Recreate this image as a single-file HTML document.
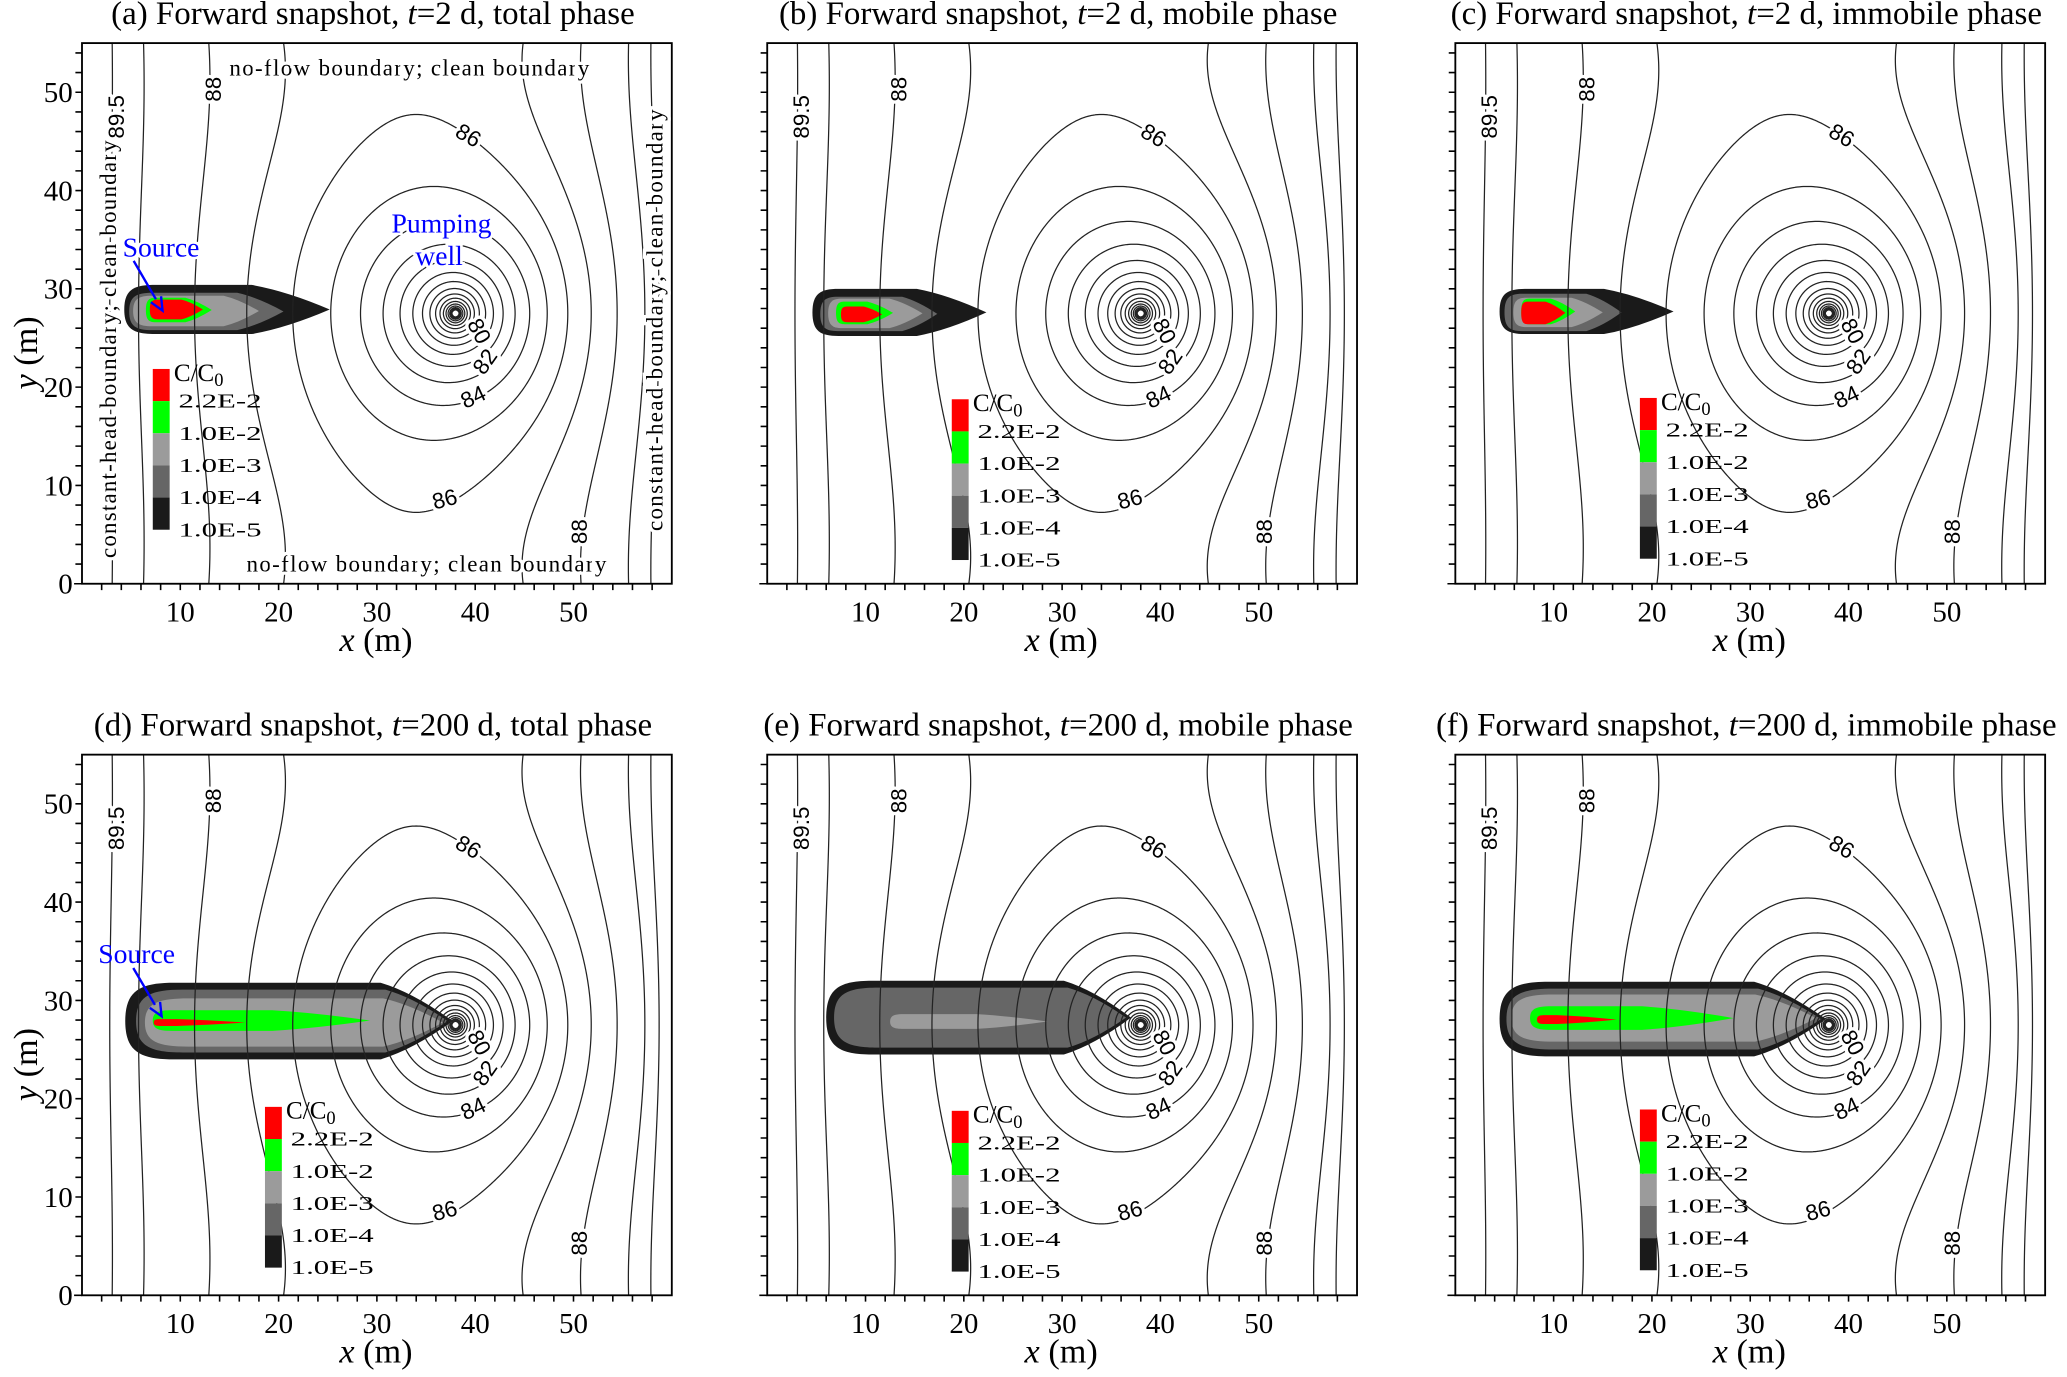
<!DOCTYPE html>
<html>
<head>
<meta charset="utf-8">
<style>
html,body{margin:0;padding:0;background:#fff;}
svg{display:block;}
text{font-family:"Liberation Serif",serif;}
.cl{font-family:"Liberation Sans",sans-serif;font-size:17px;fill:#000;stroke:#fff;stroke-width:5px;paint-order:stroke;stroke-linejoin:round;}
.bt{font-size:17.5px;fill:#000;stroke:#fff;stroke-width:5px;paint-order:stroke;}
</style>
</head>
<body>
<svg id="s" xmlns="http://www.w3.org/2000/svg" viewBox="0 0 1568 1045" width="2067" height="1377" preserveAspectRatio="none">
<rect x="0" y="0" width="1568" height="1045" fill="#fff"/>
</svg>
<script>
// ---------- data ----------
const panelTitles = [
  ["(a) Forward snapshot, ", "=2 d, total phase"],
  ["(b) Forward snapshot, ", "=2 d, mobile phase"],
  ["(c) Forward snapshot, ", "=2 d, immobile phase"],
  ["(d) Forward snapshot, ", "=200 d, total phase"],
  ["(e) Forward snapshot, ", "=200 d, mobile phase"],
  ["(f) Forward snapshot, ", "=200 d, immobile phase"]
];
const xTicks = [10, 20, 30, 40, 50];
const yTicks = [0, 10, 20, 30, 40, 50];
const contourLevels = [71, 72, 73, 74, 75, 76, 77, 78, 79, 80, 81, 82, 83, 84, 85, 86, 87, 88, 89, 89.5];
const wellX = 38, wellY = 27.5;
const headBoundary = 90;
const localRadius = 10;
// head values: [x, y, head]
const headReadX = [3.5, 7, 12.5, 16.4, 21, 24.7, 27.8, 32, 34.55, 38, 38, 21.5, 45, 49.65, 53.4, 56.4, 57.95];
const headReadY = [50, 27.5, 27.5, 27.5, 27.5, 27.5, 27.5, 27.5, 27.5, 47.4, 7.8, 55, 55, 27.5, 27.5, 27.5, 27.5];
const headReadH = [89.5, 89, 88, 87, 86, 85, 84, 82, 80, 86, 86, 87, 87, 87, 88, 89, 89.5];
const legendLabels = ["2.2E-2", "1.0E-2", "1.0E-3", "1.0E-4", "1.0E-5"];
const layerColors = ["#1a1a1a", "#666666", "#9b9b9b", "#00ff00", "#ff0000"];
// plume layers: [xmin, xmax, ytop, ybot, taperStart]
const plumeA = [[4.3,25.2,30.4,25.4,0.62],[4.8,20.5,29.6,25.8,0.7],[5.2,18.0,29.3,26.2,0.72],[6.5,13.2,29.1,26.6,0.6],[6.9,12.3,28.9,26.9,0.6]];
const plumeB = [[4.6,22.3,30.0,25.2,0.6],[5.4,17.3,29.2,25.7,0.7],[6.2,15.8,29.0,26.0,0.65],[7.0,12.8,28.7,26.4,0.55],[7.5,11.7,28.2,26.6,0.55]];
const plumeC = [[4.5,22.2,30.0,25.4,0.6],[5.0,16.9,29.5,25.7,0.7],[5.9,15.0,29.1,26.1,0.65],[6.7,12.2,29.0,26.4,0.55],[6.7,11.2,28.7,26.4,0.55]];
const plumeD = [[4.4,37.7,31.8,24.0,0.78],[5.5,37.2,31.1,24.7,0.8],[6.4,36.7,30.2,25.3,0.8],[7.2,29.3,29.0,26.9,0.55],[7.3,16.6,28.1,27.4,0.25]];
const plumeE = [[6.0,37.0,32.0,24.5,0.78],[6.8,36.5,31.3,25.2,0.8],[12.5,28.5,28.6,27.1,0.55]];
const plumeF = [[4.5,37.7,31.9,24.3,0.78],[5.2,37.2,31.2,25.0,0.8],[5.7,36.7,30.6,25.8,0.8],[7.6,28.3,29.4,27.0,0.55],[8.3,16.4,28.5,27.6,0.25]];
const plumes = [plumeA, plumeB, plumeC, plumeD, plumeE, plumeF];
// contour labels: [text, x, y, rotation]
const contourLabels = [["89.5",3.5,47.5,-90],["88",13.4,50.3,-90],["86",39.3,45.6,30],["80",40.4,25.7,62],["82",41.0,22.6,-55],["84",39.8,19.0,-25],["86",36.9,8.6,-15],["88",50.6,5.3,-90]];
const legendPos = [[115.9,280],[722,303],[1244,302],[201,840],[722,843],[1244,842]];

// ---------- layout ----------
const panelLefts = [62.2, 582, 1104];
const rowBottoms = [443, 983];
const SX = 7.457, SY = 7.46, XMAX = 60, YMAX = 55;
const svg = document.getElementById('s');
const NS = 'http://www.w3.org/2000/svg';
function mk(tag, attrs, parent) {
  const e = document.createElementNS(NS, tag);
  for (const k in attrs) e.setAttribute(k, attrs[k]);
  (parent || svg).appendChild(e);
  return e;
}

// ---------- head field ----------
const PER = 2 * XMAX;
function term(sa2, sb2, y, ys) {
  const sh = Math.sinh(Math.PI * (y - ys) / PER), sh2 = sh * sh;
  return 0.5 * (Math.log(Math.max(sa2 + sh2, 1e-12)) - Math.log(sb2 + sh2));
}
function Fparts(x, y) {
  const sa = Math.sin(Math.PI * (x - wellX) / PER), sb = Math.sin(Math.PI * (x + wellX) / PER);
  const sa2 = sa * sa, sb2 = sb * sb;
  const f0 = term(sa2, sb2, y, wellY);
  let fi = 0;
  for (let m = -2; m <= 2; m++) {
    if (m !== 0) fi += term(sa2, sb2, y, wellY + 2 * YMAX * m);
    fi += term(sa2, sb2, y, -wellY + 2 * YMAX * m);
  }
  return [f0, fi];
}
function G(x, y) {
  const r2 = (x - wellX) * (x - wellX) + (y - wellY) * (y - wellY);
  return 0.5 * Math.log(Math.max(r2, 1e-8) / (r2 + localRadius * localRadius));
}
// least-squares fit of field parameters to the read heads
const TP = headReadX.map((x, i) => Fparts(x, headReadY[i]));
const TG = headReadX.map((x, i) => G(x, headReadY[i]));
let best = null;
for (let beta = 0; beta <= 1.5001; beta += 0.05) {
  let s11 = 0, s12 = 0, s22 = 0, b1 = 0, b2 = 0;
  for (let i = 0; i < headReadX.length; i++) {
    const u = TP[i][0] + beta * TP[i][1], v = TG[i], t = headReadH[i] - headBoundary;
    s11 += u * u; s12 += u * v; s22 += v * v; b1 += u * t; b2 += v * t;
  }
  const det = s11 * s22 - s12 * s12;
  const a1 = (b1 * s22 - b2 * s12) / det, a2 = (s11 * b2 - s12 * b1) / det;
  let err = 0;
  for (let i = 0; i < headReadX.length; i++) {
    const e = headBoundary + a1 * (TP[i][0] + beta * TP[i][1]) + a2 * TG[i] - headReadH[i];
    err += e * e;
  }
  if (!best || err < best.err) best = {err: err, beta: beta, a1: a1, a2: a2};
}
const step = 0.2;
const nx = Math.round(XMAX / step) + 1, ny = Math.round(YMAX / step) + 1;
const H = [];
for (let j = 0; j < ny; j++) {
  const row = new Float64Array(nx);
  for (let i = 0; i < nx; i++) {
    const x = i * step, y = j * step + 0.01;
    const fp = Fparts(x, y);
    row[i] = headBoundary + best.a1 * (fp[0] + best.beta * fp[1]) + best.a2 * G(x, y);
  }
  H.push(row);
}
let contourD = '';
for (const L of contourLevels) {
  for (let j = 0; j < ny - 1; j++) {
    for (let i = 0; i < nx - 1; i++) {
      const x0 = i * step, y0 = j * step + 0.01, x1 = x0 + step, y1 = y0 + step;
      const cx = x0 + step / 2 - wellX, cy = y0 + step / 2 - wellY;
      if (cx * cx + cy * cy < 0.05) continue;
      const v = [H[j][i], H[j][i + 1], H[j + 1][i + 1], H[j + 1][i]];
      const p = [[x0, y0], [x1, y0], [x1, y1], [x0, y1]];
      const pts = [];
      for (let e = 0; e < 4; e++) {
        const a = v[e], b = v[(e + 1) % 4];
        if ((a < L) !== (b < L)) {
          const t = (L - a) / (b - a);
          const pa = p[e], pb = p[(e + 1) % 4];
          pts.push([pa[0] + t * (pb[0] - pa[0]), pa[1] + t * (pb[1] - pa[1])]);
        }
      }
      for (let q = 0; q + 1 < pts.length; q += 2) {
        contourD += 'M' + pts[q][0].toFixed(3) + ' ' + pts[q][1].toFixed(3) + 'L' + pts[q + 1][0].toFixed(3) + ' ' + pts[q + 1][1].toFixed(3);
      }
    }
  }
}

function cigar(l) {
  const xmin = l[0], xmax = l[1], yt = l[2], yb = l[3], tp = l[4];
  const len = xmax - xmin, yc = (yt + yb) / 2;
  const xa = xmin + Math.min(0.15 * len, (yt - yb) * 0.9);
  const xb = Math.max(xa, xmin + tp * len);
  const qx = xb + (xmax - xb) * 0.45;
  return 'M' + xmin + ' ' + yc + ' C' + xmin + ' ' + (yc + (yt - yc) * 0.8) + ' ' + (xmin + (xa - xmin) * 0.3) + ' ' + yt + ' ' + xa + ' ' + yt +
    ' L' + xb + ' ' + yt + ' Q' + qx + ' ' + (yc + (yt - yc) * 0.75) + ' ' + xmax + ' ' + yc +
    ' Q' + qx + ' ' + (yc - (yc - yb) * 0.75) + ' ' + xb + ' ' + yb +
    ' L' + xa + ' ' + yb + ' C' + (xmin + (xa - xmin) * 0.3) + ' ' + yb + ' ' + xmin + ' ' + (yc - (yc - yb) * 0.8) + ' ' + xmin + ' ' + yc + ' Z';
}

// ---------- panels ----------
for (let p = 0; p < 6; p++) {
  const L = panelLefts[p % 3], B = rowBottoms[Math.floor(p / 3)];
  const W = XMAX * SX, Ht = YMAX * SY, T = B - Ht;
  const px = x => L + x * SX, py = y => B - y * SY;
  const g = mk('g', {});
  
  

  const tt = mk('text', {x: L + W / 2 - 3, y: T - 14.5, 'text-anchor': 'middle', 'font-size': 25}, g);
  
  
  tt.appendChild(document.createTextNode(panelTitles[p][0]));
  const ti = mk('tspan', {'font-style': 'italic'}, tt);
  ti.textContent = 't';
  tt.appendChild(document.createTextNode(panelTitles[p][1]));

  const dg = mk('g', {transform: 'translate(' + L + ',' + B + ') scale(' + SX + ',' + (-SY) + ')'}, g);
  
  
  plumes[p].forEach((layer, k) => {
    const pl = mk('path', {d: cigar(layer), fill: layerColors[k], stroke: 'none'}, dg);
    
    
  });
  const cp = mk('path', {d: contourD, fill: 'none', stroke: '#222', 'stroke-width': 1.25, 'stroke-linecap': 'round', 'vector-effect': 'non-scaling-stroke'}, dg);
  
  
  const wd = mk('circle', {cx: px(wellX), cy: py(wellY), r: 1.8, fill: '#fff'}, g);
  
  

  contourLabels.forEach(c => {
    const t = mk('text', {class: 'cl', x: px(c[1]), y: py(c[2]), 'text-anchor': 'middle', 'dominant-baseline': 'central', transform: 'rotate(' + c[3] + ' ' + px(c[1]) + ' ' + py(c[2]) + ')'}, g);
    
    
    t.textContent = c[0];
  });

  const fr = mk('rect', {x: L, y: T, width: W, height: Ht, fill: 'none', stroke: '#000', 'stroke-width': 1.4}, g);
  
  

  let td = '';
  for (let x = 2; x < XMAX; x += 2) td += 'M' + px(x) + ' ' + B + 'v4.8';
  for (let y = 2; y < YMAX; y += 2) td += 'M' + L + ' ' + py(y) + 'h-5';
  td += 'M' + L + ' ' + B + 'h-6';
  const tk = mk('path', {d: td, stroke: '#000', 'stroke-width': 1.2, fill: 'none'}, g);
  
  
  xTicks.forEach(v => {
    const t = mk('text', {x: px(v), y: B + 28.6, 'text-anchor': 'middle', 'font-size': 22}, g);
    
    
    t.textContent = v;
  });
  const xl = mk('text', {x: L + 223, y: B + 51, 'text-anchor': 'middle', 'font-size': 26}, g);
  
  
  const xi = mk('tspan', {'font-style': 'italic'}, xl);
  xi.textContent = 'x';
  xl.appendChild(document.createTextNode(' (m)'));
  if (p % 3 === 0) {
    yTicks.forEach(v => {
      const t = mk('text', {x: L - 7, y: py(v) + 7.5, 'text-anchor': 'end', 'font-size': 22}, g);
      
      
      t.textContent = v;
    });
    const cy = (T + B) / 2 + 30;
    const yl = mk('text', {x: 28, y: cy, 'text-anchor': 'middle', 'font-size': 26, transform: 'rotate(-90 28 ' + cy + ')'}, g);
    
    
    const yi = mk('tspan', {'font-style': 'italic'}, yl);
    yi.textContent = 'y';
    yl.appendChild(document.createTextNode(' (m)'));
  }

  const lg = mk('g', {}, g);
  
  
  const lx = legendPos[p][0], ly = legendPos[p][1];
  const lt = mk('text', {x: lx + 16, y: ly + 9, 'font-size': 19}, lg);
  
  
  lt.appendChild(document.createTextNode('C/C'));
  const sub = mk('tspan', {'font-size': 14, dy: 4}, lt);
  sub.textContent = '0';
  layerColors.slice().reverse().forEach((c, k) => {
    const r = mk('rect', {x: lx, y: ly + k * 24.4, width: 12.8, height: 24.4, fill: c}, lg);
    
    
    const t = mk('text', {x: lx + 19.5, y: ly + (k + 1) * 24.4 + 5, 'font-size': 15, textLength: 63, lengthAdjust: 'spacingAndGlyphs'}, lg);
    
    
    t.textContent = legendLabels[k];
  });
}

// ---------- annotations ----------
function note(txt, x, y, attrs, name) {
  const t = mk('text', Object.assign({x: x, y: y}, attrs));
  
  
  t.textContent = txt;
  return t;
}
note('no-flow boundary; clean boundary', 310.5, 57.3, {'text-anchor': 'middle', class: 'bt', textLength: 273}, 'top-boundary-note');
note('no-flow boundary; clean boundary', 323.5, 433.8, {'text-anchor': 'middle', class: 'bt', textLength: 273}, 'bottom-boundary-note');
note('constant-head boundary; clean boundary', 88, 265, {'text-anchor': 'middle', class: 'bt', textLength: 317, transform: 'rotate(-90 88 265)'}, 'left-boundary-note');
note('constant-head boundary; clean boundary', 502.5, 243, {'text-anchor': 'middle', class: 'bt', textLength: 320, transform: 'rotate(-90 502.5 243)'}, 'right-boundary-note');
note('Source', 93, 194.6, {'font-size': 21, fill: '#0000ff', stroke: '#fff', 'stroke-width': 4, 'paint-order': 'stroke'}, 'source-label');
note('Pumping', 297, 176.5, {'font-size': 21, fill: '#0000ff', stroke: '#fff', 'stroke-width': 4, 'paint-order': 'stroke'}, 'pumping-well-label');
note('well', 315, 201, {'font-size': 21, fill: '#0000ff', stroke: '#fff', 'stroke-width': 4, 'paint-order': 'stroke'}, 'pumping-well-label-2');
note('Source', 74.5, 730.8, {'font-size': 21, fill: '#0000ff'}, 'source-label-d');
function arrow(x1, y1, x2, y2, name) {
  const ang = Math.atan2(y2 - y1, x2 - x1), hl = 10, hw = 4.5;
  const bx = x2 - hl * Math.cos(ang), by = y2 - hl * Math.sin(ang);
  const a = mk('path', {d: 'M' + x1 + ' ' + y1 + 'L' + bx + ' ' + by + 'M' + (bx - hw * Math.sin(ang)) + ' ' + (by + hw * Math.cos(ang)) + 'L' + x2 + ' ' + y2 + 'L' + (bx + hw * Math.sin(ang)) + ' ' + (by - hw * Math.cos(ang)), stroke: '#0000ff', 'stroke-width': 1.8, fill: 'none'});
  
  
}
arrow(101.4, 198, 123.3, 235.7, 'source-arrow');
arrow(101.1, 734.6, 122.6, 771.2, 'source-arrow-d');
</script>
</body>
</html>
